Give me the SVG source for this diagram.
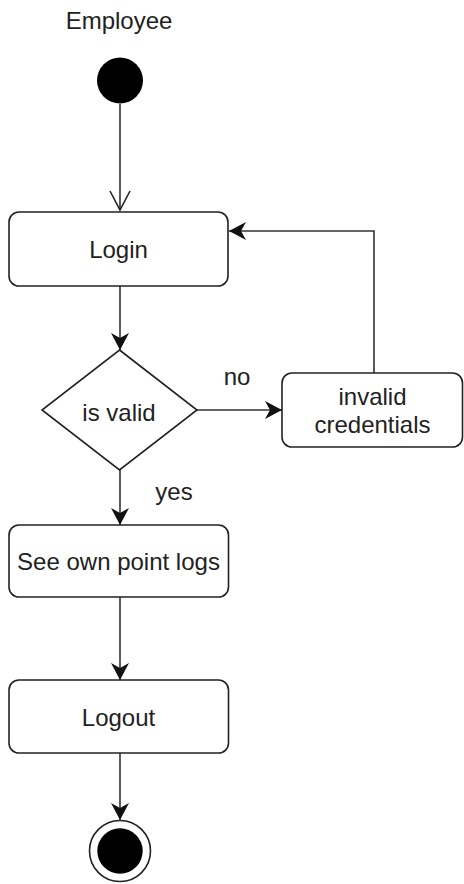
<svg xmlns="http://www.w3.org/2000/svg" width="464" height="884" viewBox="0 0 464 884">
  <defs>
    <style>
      .box { fill: #ffffff; stroke: #222222; stroke-width: 1.6; }
      .edge { fill: none; stroke: #333333; stroke-width: 1.6; }
      .txt { font-family: "Liberation Sans", Arial, sans-serif; font-size: 24px; fill: #222222; text-anchor: middle; }
    </style>
    <!-- filled notched arrowhead -->
    <marker id="block" viewBox="0 0 18 20" refX="17" refY="10" markerWidth="18" markerHeight="20" markerUnits="userSpaceOnUse" orient="auto">
      <path d="M0,1 L17,10 L0,19 L5,10 Z" fill="#111111"/>
    </marker>
    <!-- open V arrowhead -->
    <marker id="open" viewBox="0 0 22 24" refX="20" refY="12" markerWidth="22" markerHeight="24" markerUnits="userSpaceOnUse" orient="auto">
      <path d="M1,2 L20,12 L1,22" fill="none" stroke="#222222" stroke-width="1.6"/>
    </marker>
  </defs>

  <rect width="464" height="884" fill="#ffffff"/>

  <text class="txt" x="119" y="29">Employee</text>

  <g id="connectors">
    <path class="edge" d="M120,104 L120,210" marker-end="url(#open)"/>
    <path class="edge" d="M120,286 L120,350" marker-end="url(#block)"/>
    <path class="edge" d="M197,410 L282,410" marker-end="url(#block)"/>
    <path class="edge" d="M374,373 L374,231 L229,231" marker-end="url(#block)"/>
    <path class="edge" d="M120,470 L120,525" marker-end="url(#block)"/>
    <path class="edge" d="M120,597 L120,680" marker-end="url(#block)"/>
    <path class="edge" d="M120,753 L120,820" marker-end="url(#block)"/>
    <text class="txt" x="237" y="385">no</text>
    <text class="txt" x="174" y="500">yes</text>
  </g>

  <g id="start">
    <circle cx="120" cy="80.5" r="23" fill="#000000"/>
  </g>

  <g id="login">
    <rect class="box" x="9" y="212" width="219" height="74" rx="10"/>
    <text class="txt" x="118.5" y="257.5">Login</text>
  </g>

  <g id="is-valid">
    <polygon class="box" points="119.5,350 197,410 119.5,470 42,410"/>
    <text class="txt" x="119" y="420.5">is valid</text>
  </g>

  <g id="invalid-credentials">
    <rect class="box" x="282" y="373" width="180.5" height="74" rx="10"/>
    <text class="txt" x="372.5" y="404.5">invalid</text>
    <text class="txt" x="372.5" y="433">credentials</text>
  </g>

  <g id="see-own-point-logs">
    <rect class="box" x="9" y="525" width="219.5" height="72" rx="10"/>
    <text class="txt" x="118.5" y="569.5">See own point logs</text>
  </g>

  <g id="logout">
    <rect class="box" x="9" y="680" width="219.5" height="73" rx="10"/>
    <text class="txt" x="118.5" y="725.5">Logout</text>
  </g>

  <g id="end">
    <circle cx="120" cy="851" r="30.5" fill="#ffffff" stroke="#222222" stroke-width="1.6"/>
    <circle cx="120" cy="851" r="22.7" fill="#000000"/>
  </g>
</svg>
